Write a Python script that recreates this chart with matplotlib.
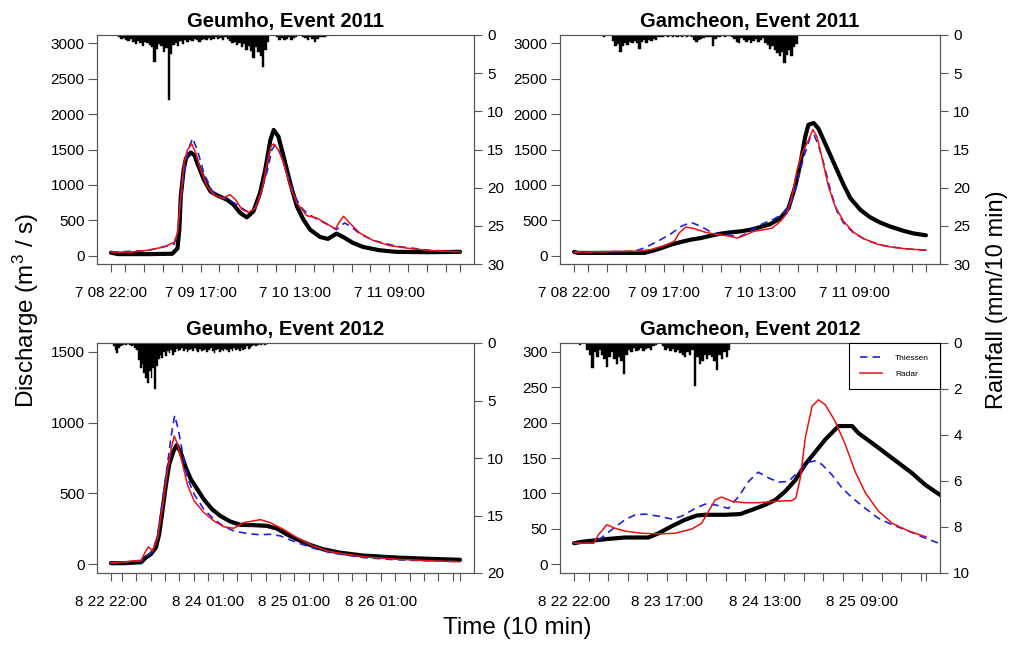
import numpy as np
import matplotlib
matplotlib.use("Agg")
import matplotlib.pyplot as plt

plt.rcParams['font.family'] = ['Liberation Sans', 'DejaVu Sans']
plt.rcParams['mathtext.fontset'] = 'custom'
plt.rcParams['mathtext.rm'] = 'Liberation Sans'
plt.rcParams['mathtext.it'] = 'Liberation Sans:italic'

# time is in hours since the start of each event, rain in mm/10 min at 30 min steps

# Geumho, Event 2011
gm11_obs_t = [0.0, 1.5, 8.0, 13.0, 13.5, 14.1, 14.5, 14.8, 15.4, 15.9, 16.9, 17.7, 18.3, 19.7, 21.1, 22.5, 24.6, 26.0,
              27.4, 28.8, 30.2, 31.6, 32.7, 33.8, 34.5, 35.5, 36.6, 38.0, 39.4, 40.8, 42.2, 44.3, 46.0, 47.8, 49.2,
              51.3, 53.4, 56.9, 60.4, 67.4, 74.0]
gm11_obs_q = [40, 20, 20, 25, 60, 100, 367, 837, 1213, 1377, 1457, 1420, 1307, 1072, 907, 851, 790, 719,
              602, 540, 625, 884, 1213, 1636, 1777, 1683, 1400, 1025, 696, 508, 367, 263, 235, 310, 263,
              179, 122, 75, 52, 47, 52]
gm11_rad_t = [0.0, 4.3, 7.8, 11.3, 13.4, 14.1, 14.8, 15.5, 16.2, 17.1, 18.0, 19.0, 20.4, 21.8, 23.6, 25.3, 26.4,
              27.8, 29.2, 30.6, 32.0, 33.1, 33.9, 34.5, 35.5, 36.6, 38.0, 39.4, 41.5, 43.6, 45.7, 47.6, 48.5,
              49.3, 50.6, 52.7, 55.5, 59.0, 63.9, 68.8, 74.0]
gm11_rad_q = [47, 50, 75, 122, 188, 320, 837, 1307, 1495, 1579, 1448, 1213, 978, 860, 813, 860, 790,
              649, 611, 672, 931, 1307, 1542, 1579, 1495, 1307, 978, 743, 564, 531, 451, 376, 484,
              555, 461, 320, 216, 141, 94, 66, 52]
gm11_thi_t = [0.0, 7.8, 13.4, 14.1, 15.5, 16.4, 17.3, 18.3, 19.7, 21.5, 23.6, 25.0, 26.7, 28.8, 30.6, 32.0, 33.2,
              34.1, 34.8, 35.9, 37.3, 38.7, 40.1, 41.5, 43.6, 45.7, 47.8, 49.5, 50.6, 52.7, 55.5, 60.4, 67.4, 74.0]
gm11_thi_q = [47, 70, 160, 320, 1166, 1500, 1659, 1495, 1166, 907, 813, 790, 719, 625, 672, 931, 1213,
              1495, 1565, 1448, 1166, 884, 696, 602, 517, 446, 367, 461, 423, 310, 216, 132, 75, 52]
gm11_rain = [0, 0, 0, 0.3, 0.5, 0.4, 0.6, 0.8, 0.5, 0.9, 1.2, 0.8, 1.0, 1.4, 0.9, 1.1, 1.3, 1.6, 3.5, 1.8,
             1.2, 1.5, 2.2, 1.7, 8.5, 2.5, 1.3, 1.0, 1.5, 0.8, 1.2, 0.7, 0.9, 0.6, 0.8, 0.5, 0.7, 0.9, 0.6, 0.5,
             0.7, 0.4, 0.6, 0.5, 0.3, 0.5, 0.4, 0.6, 0.3, 0.5, 0.8, 1.0, 0.9, 1.3, 1.0, 1.6, 1.2, 1.9, 1.5, 2.1,
             3.0, 1.6, 2.2, 2.8, 4.2, 2.0, 0.9, 0, 0, 0, 0.3, 0.6, 0.4, 0.7, 0.5, 0.3, 0.6, 0.4, 0.3, 0,
             0, 0.2, 0.4, 0.6, 0.3, 0.5, 0.9, 0.5, 0.3, 0.2, 0.2, 0.1]

# Gamcheon, Event 2011
gc11_obs_t = [0.0, 0.8, 14.8, 16.2, 18.3, 20.4, 22.5, 24.6, 26.7, 28.8, 30.8, 32.9, 35.0, 37.1, 39.2, 41.3, 43.4,
              45.1, 46.5, 47.6, 48.6, 49.3, 50.4, 51.4, 52.5, 53.9, 55.3, 56.7, 58.1, 60.2, 62.2, 64.3, 66.4,
              69.2, 71.3, 74.0]
gc11_obs_q = [52, 37, 37, 61, 103, 155, 192, 225, 248, 281, 309, 328, 342, 365, 403, 445, 530,
              670, 975, 1303, 1678, 1851, 1874, 1795, 1631, 1420, 1209, 998, 811, 647, 544, 469, 412,
              351, 314, 286]
gc11_rad_t = [0.0, 13.4, 16.2, 19.0, 21.1, 22.1, 23.5, 25.3, 27.4, 30.1, 32.2, 34.3, 35.7, 37.8, 39.9, 41.7, 43.4,
              44.8, 45.8, 46.9, 47.9, 49.3, 50.2, 51.1, 52.1, 53.5, 54.9, 56.7, 58.8, 60.9, 63.6, 66.4, 69.9, 74.0]
gc11_rad_q = [47, 61, 84, 141, 201, 319, 403, 380, 333, 295, 281, 248, 281, 342, 365, 389, 483,
              600, 834, 1209, 1443, 1631, 1781, 1678, 1396, 975, 694, 483, 328, 239, 164, 122, 94, 75]
gc11_thi_t = [0.0, 12.7, 14.8, 17.6, 20.4, 22.5, 24.6, 26.7, 29.4, 32.2, 34.7, 36.4, 39.2, 42.0, 44.1, 45.5, 46.9,
              48.3, 49.7, 50.4, 51.4, 52.5, 53.9, 55.3, 56.7, 58.8, 61.5, 65.0, 69.2, 74.0]
gc11_thi_q = [47, 61, 108, 201, 309, 412, 469, 412, 309, 295, 262, 319, 436, 515, 600, 717, 1022,
              1396, 1678, 1715, 1560, 1303, 928, 623, 459, 319, 216, 141, 98, 75]
gc11_rain = [0, 0, 0, 0, 0, 0, 0, 0, 0, 0, 0, 0, 0.2, 0, 0, 0, 0.8, 1.5, 1.2, 2.2,
             1.4, 1.0, 1.3, 0.9, 1.1, 0.8, 1.0, 1.8, 0.9, 0.7, 1.0, 0.6, 0.8, 0.5, 0.6, 0.3, 0.2, 0.3, 0.1, 0.2,
             0.1, 0.2, 0.1, 0.2, 0.1, 0.2, 0.1, 0.2, 0.1, 0.3, 0.6, 0.9, 0.7, 0.5, 0.4, 0.3, 0.2, 0.3, 1.4, 0.5,
             0.3, 0.2, 0.1, 0.2, 0.1, 0.1, 0.2, 0.5, 0.9, 1.1, 0.4, 0.6, 0.9, 0.7, 1.1, 0.8, 0.5, 0.9, 0.6, 0.4,
             1.0, 1.3, 1.8, 1.5, 2.0, 2.4, 2.8, 2.2, 3.7, 2.6, 2.0, 2.8, 1.6, 1.2]

# Geumho, Event 2012
gm12_obs_t = [0.0, 3.8, 8.4, 9.7, 11.1, 12.5, 13.4, 14.3, 15.3, 16.2, 17.4, 18.3, 19.4, 20.8, 22.2, 24.0, 25.8,
              28.1, 30.4, 33.2, 36.0, 39.6, 43.3, 46.1, 48.8, 51.6, 55.3, 58.9, 63.5, 70.0, 79.2, 88.4, 97.0]
gm12_obs_q = [9, 9, 16, 49, 73, 120, 213, 377, 565, 706, 800, 841, 788, 682, 600, 530, 459,
              389, 342, 302, 279, 277, 272, 253, 213, 178, 138, 108, 84, 63, 49, 40, 33]
gm12_rad_t = [0.0, 8.4, 9.7, 10.4, 11.6, 13.0, 14.3, 15.7, 16.8, 17.6, 18.5, 19.9, 21.2, 23.1, 25.8, 28.6, 31.4,
              34.1, 36.9, 39.6, 41.5, 44.2, 47.9, 51.6, 56.2, 60.8, 70.0, 79.2, 88.4, 97.0]
gm12_rad_q = [9, 30, 96, 124, 96, 190, 401, 659, 823, 905, 846, 706, 565, 448, 366, 307, 265,
              255, 295, 307, 316, 295, 248, 190, 131, 91, 54, 38, 26, 19]
gm12_thi_t = [0.0, 8.4, 10.2, 11.6, 13.0, 14.3, 15.7, 16.8, 17.7, 18.7, 19.9, 21.2, 23.1, 25.8, 28.6, 31.4, 34.1,
              37.8, 41.5, 44.2, 47.0, 51.6, 56.2, 60.8, 70.0, 79.2, 88.4, 97.0]
gm12_thi_q = [9, 26, 61, 96, 213, 448, 706, 916, 1050, 952, 788, 612, 495, 389, 319, 267, 237,
              218, 209, 213, 202, 155, 115, 84, 49, 33, 26, 21]
gm12_rain = [0, 0.3, 0.6, 0.9, 0.4, 0.3, 0.2, 0.1, 0.2, 0.1, 0.2, 0.3, 0.2, 0.4, 0.6, 1.5, 2.2, 1.8, 2.6, 3.0,
             3.5, 2.4, 3.0, 2.2, 4.0, 2.0, 1.4, 1.0, 1.3, 0.8, 1.1, 0.7, 0.9, 0.6, 1.0, 0.8, 0.5, 0.7, 0.6, 0.4,
             0.7, 0.5, 0.8, 0.6, 0.5, 0.7, 0.4, 0.6, 0.8, 0.5, 0.7, 0.6, 0.5, 0.8, 0.6, 0.4, 0.7, 0.9, 0.6, 0.5,
             0.8, 0.6, 0.7, 0.5, 0.6, 0.8, 0.5, 0.7, 0.4, 0.6, 0.5, 0.7, 0.4, 0.6, 0.5, 0.3, 0.5, 0.4, 0.3, 0.2,
             0.3, 0.2, 0.1, 0.2, 0.1, 0.2, 0.1]

# Gamcheon, Event 2012
gc12_obs_t = [0.0, 1.6, 4.3, 7.0, 10.4, 15.2, 17.3, 20.0, 22.7, 25.1, 26.8, 30.9, 34.0, 36.4, 39.1, 41.2, 43.2,
              45.3, 47.3, 49.4, 51.4, 53.4, 54.1, 56.9, 58.2, 61.0, 63.7, 66.4, 69.1, 71.9, 74.9, 76.0]
gc12_obs_q = [30, 32, 34, 36, 38, 38, 44, 54, 63, 69, 70, 70, 71, 77, 84, 91, 103,
              119, 141, 159, 176, 190, 195, 195, 185, 171, 157, 143, 129, 112, 98, 93]
gc12_rad_t = [0.0, 4.0, 5.0, 6.7, 8.4, 10.4, 13.9, 17.3, 20.7, 24.1, 26.1, 27.5, 28.9, 30.2, 32.3, 35.0, 37.7,
              41.2, 44.6, 45.4, 46.3, 47.3, 48.7, 50.0, 51.4, 53.4, 55.5, 57.5, 59.6, 62.3, 65.1, 68.5, 72.0]
gc12_rad_q = [30, 30, 42, 56, 51, 47, 44, 43, 44, 50, 58, 75, 91, 95, 89, 87, 87,
              89, 90, 94, 122, 178, 223, 232, 225, 202, 169, 131, 101, 75, 58, 47, 39]
gc12_thi_t = [0.0, 4.0, 5.7, 7.7, 10.4, 12.5, 14.5, 17.3, 20.0, 22.0, 24.8, 26.8, 28.9, 31.6, 33.7, 35.7, 37.7,
              39.8, 41.8, 43.9, 45.9, 48.0, 49.4, 50.7, 52.8, 54.8, 56.9, 59.6, 62.3, 65.1, 68.5, 71.9, 74.6]
gc12_thi_q = [30, 30, 38, 49, 63, 70, 71, 68, 64, 68, 79, 85, 84, 79, 96, 117, 130,
              122, 116, 117, 131, 144, 146, 141, 126, 108, 94, 79, 65, 56, 47, 37, 30]
gc12_rain = [0, 0, 0.1, 0, 0, 0.3, 0.5, 1.1, 0.4, 0.6, 0.3, 0.5, 0.7, 1.06, 0.6, 0.4, 0.7, 0.9, 0.6, 0.8,
             1.33, 0.5, 0.3, 0.4, 0.2, 0.35, 0.3, 0.2, 0.35, 0.25, 0.2, 0.3, 0.15, 0.1, 0, 0, 0.15, 0.3, 0.2, 0.35,
             0.25, 0.4, 0.3, 0.45, 0.5, 0.6, 0.4, 0.5, 0.3, 1.85, 0.6, 0.9, 0.8, 0.5, 0.7, 0.5, 0.6, 0.8, 1.16, 0.5,
             0.7, 0.4, 0.6, 0.3]

titles = ['Geumho, Event 2011', 'Gamcheon, Event 2011', 'Geumho, Event 2012', 'Gamcheon, Event 2012']
event_len = [74, 74, 97, 72]
q_ticks = [np.arange(0, 3001, 500), np.arange(0, 3001, 500), np.arange(0, 1501, 500), np.arange(0, 301, 50)]
rain_ticks = [np.arange(0, 31, 5), np.arange(0, 31, 5), np.arange(0, 21, 5), np.arange(0, 11, 2)]
label_hours = [[0, 19, 39, 59], [0, 19, 39, 59], [0, 27, 51, 75], [0, 19, 39, 59]]
label_text = [['7 08 22:00', '7 09 17:00', '7 10 13:00', '7 11 09:00'],
              ['7 08 22:00', '7 09 17:00', '7 10 13:00', '7 11 09:00'],
              ['8 22 22:00', '8 24 01:00', '8 25 01:00', '8 26 01:00'],
              ['8 22 22:00', '8 23 17:00', '8 24 13:00', '8 25 09:00']]

data = [
    (gm11_obs_t, gm11_obs_q, gm11_thi_t, gm11_thi_q, gm11_rad_t, gm11_rad_q, gm11_rain),
    (gc11_obs_t, gc11_obs_q, gc11_thi_t, gc11_thi_q, gc11_rad_t, gc11_rad_q, gc11_rain),
    (gm12_obs_t, gm12_obs_q, gm12_thi_t, gm12_thi_q, gm12_rad_t, gm12_rad_q, gm12_rain),
    (gc12_obs_t, gc12_obs_q, gc12_thi_t, gc12_thi_q, gc12_rad_t, gc12_rad_q, gc12_rain),
]

W, H = 1014, 645
fig = plt.figure(figsize=(W / 100, H / 100), dpi=100)

# panel boxes in pixels: left, right, top, bottom
boxes = [(97, 474, 35, 264), (560, 940, 35, 264), (97, 474, 343, 573), (560, 940, 343, 573)]
frame_col = '#555555'

for i in range(4):
    l, r, t, b = boxes[i]
    ax = fig.add_axes([l / W, 1 - b / H, (r - l) / W, (b - t) / H])
    obs_t, obs_q, thi_t, thi_q, rad_t, rad_q, rain = data[i]
    n = event_len[i]

    ax.plot(obs_t, obs_q, color='black', lw=3, solid_capstyle='round', zorder=3)
    lt, = ax.plot(thi_t, thi_q, color='#2020e0', lw=1.2, dashes=(4.5, 3), zorder=4, label='Thiessen')
    lr, = ax.plot(rad_t, rad_q, color='#ee1111', lw=1.1, zorder=5, label='Radar')

    qt = q_ticks[i]
    pad = 0.04 * qt[-1]
    ax.set_ylim(-pad, qt[-1] + pad)
    ax.set_yticks(qt)
    ax.set_xlim(-0.04 * n, n * 1.04)

    xt = [0] + list(range(3, n, 4)) + [n]
    ax.set_xticks(xt)
    ax.set_xticklabels([label_text[i][label_hours[i].index(h)] if h in label_hours[i] else '' for h in xt])

    ax.tick_params(axis='y', labelsize=11, length=6.5, width=0.8, color=frame_col, pad=2.5)
    ax.tick_params(axis='x', labelsize=11, length=5.5, width=0.8, color=frame_col, pad=10)
    for s in ax.spines.values():
        s.set_color(frame_col)
        s.set_linewidth(0.8)
    ax.set_title(titles[i], fontsize=14.5, fontweight='bold', pad=6)

    ax2 = ax.twinx()
    rt = np.arange(len(rain)) * 0.5
    ax2.bar(rt, rain, width=0.5, align='edge', color='black', edgecolor='black', linewidth=0.3)
    ax2.set_ylim(rain_ticks[i][-1], 0)
    ax2.set_yticks(rain_ticks[i])
    ax2.tick_params(axis='y', labelsize=11, length=6, width=0.8, color=frame_col, pad=3.5)
    for s in ax2.spines.values():
        s.set_color(frame_col)
        s.set_linewidth(0.8)
    ax2.set_xlim(-0.04 * n, n * 1.04)

    if i == 3:
        leg = ax2.legend([lt, lr], ['Thiessen', 'Radar'], loc='upper right', bbox_to_anchor=(1, 1),
                         borderaxespad=0, fontsize=6, fancybox=False, framealpha=1, edgecolor='black',
                         handlelength=2.6, handletextpad=1.6, labelspacing=1.0, borderpad=1.3)
        leg.get_frame().set_linewidth(0.8)

fig.text(26 / W, 1 - 310 / H, 'Discharge (m$^{3}$ / s)', rotation=90, fontsize=17.5, ha='center', va='center')
fig.text(997 / W, 1 - 300 / H, 'Rainfall (mm/10 min)', rotation=90, fontsize=17, ha='center', va='center')
fig.text(517 / W, 1 - 628 / H, 'Time (10 min)', fontsize=17.5, ha='center', va='center')

fig.savefig('out.png', dpi=100)
